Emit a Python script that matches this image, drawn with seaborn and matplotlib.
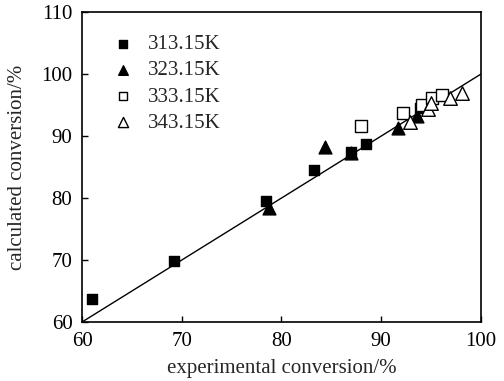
import matplotlib.pyplot as plt
import numpy as np
import pandas as pd
import seaborn as sns

sns.set_style("ticks")
plt.rcParams["font.family"] = ["Liberation Serif", "DejaVu Serif"]

# experimental vs calculated conversion (%) per temperature
exp_313 = [61.0, 69.2, 78.4, 83.3, 87.0, 88.5, 93.9]
cal_313 = [63.7, 69.8, 79.5, 84.5, 87.4, 88.8, 94.6]

exp_323 = [78.7, 84.4, 87.0, 91.7, 93.6]
cal_323 = [78.4, 88.3, 87.3, 91.3, 93.3]

exp_333 = [88.0, 92.2, 94.1, 95.1, 96.1]
cal_333 = [91.7, 93.8, 95.0, 96.1, 96.6]

exp_343 = [92.9, 94.7, 95.0, 96.9, 98.1]
cal_343 = [92.2, 94.3, 95.3, 96.1, 96.9]

labels = ["313.15K", "323.15K", "333.15K", "343.15K"]
diag = [60, 100]

series = [
    (exp_313, cal_313, "s", "black", 60),
    (exp_323, cal_323, "^", "black", 85),
    (exp_333, cal_333, "s", "white", 70),
    (exp_343, cal_343, "^", "white", 95),
]

fig = plt.figure(figsize=(5.04, 3.81), dpi=100)
ax = fig.add_axes([0.163, 0.155, 0.791, 0.813])

ax.plot(diag, diag, color="black", lw=1.0, zorder=1)

for (xs, ys, m, fc, s), lab in zip(series, labels):
    df = pd.DataFrame({"exp": xs, "cal": ys})
    sns.scatterplot(data=df, x="exp", y="cal", marker=m, color=fc,
                    edgecolor="black", linewidth=1.0, s=s, label=lab,
                    ax=ax, zorder=3)

ax.set_xlim(60, 100)
ax.set_ylim(60, 110)
ax.set_xticks([60, 70, 80, 90, 100])
ax.set_yticks([60, 70, 80, 90, 100, 110])
ax.tick_params(direction="in", length=4, width=1, labelsize=15,
               colors="black", pad=7)
for sp in ax.spines.values():
    sp.set_linewidth(1.2)
    sp.set_color("black")

ax.set_xlabel("experimental conversion/%", fontsize=15, labelpad=6)
ax.set_ylabel("calculated conversion/%", fontsize=15, labelpad=10)

leg = ax.legend(loc="upper left", bbox_to_anchor=(0.03, 0.955), frameon=False,
                fontsize=15, handletextpad=0.2, labelspacing=0.32,
                markerscale=0.75, borderaxespad=0)

fig.savefig("out.png", dpi=100)
